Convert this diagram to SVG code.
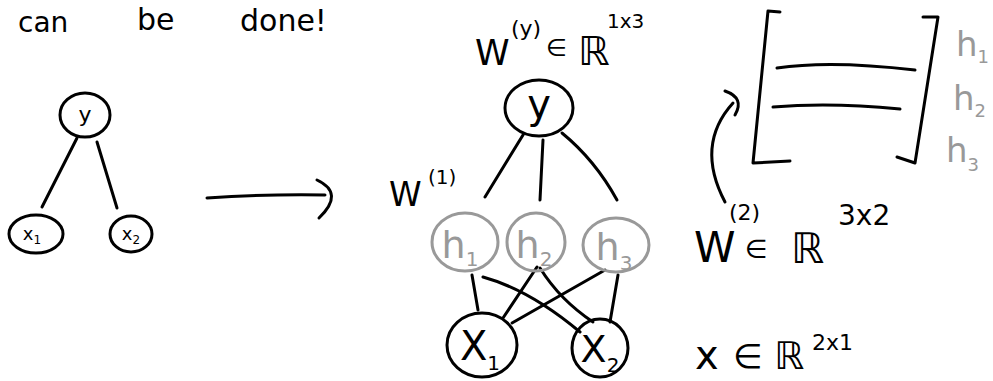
<svg xmlns="http://www.w3.org/2000/svg" width="993" height="381" viewBox="0 0 993 381">
<style>
.s{fill:none;stroke:#000;stroke-width:3;stroke-linecap:round;stroke-linejoin:round}
.g{fill:none;stroke:#999;stroke-width:3;stroke-linecap:round}
.t{font-family:"DejaVu Sans","Liberation Sans",sans-serif;fill:#000}
.tg{font-family:"DejaVu Sans","Liberation Sans",sans-serif;fill:#999}
</style>
<rect width="993" height="381" fill="#fff"/>
<g id="title">
<text class="t" x="18" y="32" font-size="28">can</text>
<text class="t" x="137" y="30" font-size="30">be</text>
<text class="t" x="240" y="31" font-size="30">done!</text>
</g>
<g id="connectors">
<path class="s" d="M77,138 L42,207"/>
<path class="s" d="M97,142 L117,208"/>
<path class="s" d="M207,198 Q265,194 325,195"/>
<path class="s" d="M317,180 Q345,193 319,218"/>
<path class="s" d="M523,135 L485,197"/>
<path class="s" d="M543,140 L540,200"/>
<path class="s" d="M562,133 Q595,160 617,200"/>
<path class="s" d="M472,275 L478,310"/>
<path class="s" d="M483,277 Q530,290 580,332" stroke-width="4"/>
<path class="s" d="M537,267 L503,318"/>
<path class="s" d="M540,268 Q560,300 593,322"/>
<path class="s" d="M605,270 L512,323"/>
<path class="s" d="M618,275 L610,322"/>
<path class="s" d="M725,202 Q695,145 733,103"/>
<path class="s" d="M725,91 Q745,98 735,115"/>
</g>
<g id="node-y-left">
<ellipse class="s" cx="85" cy="115" rx="25" ry="22"/>
<text class="t" x="85" y="122" font-size="22" text-anchor="middle">y</text>
</g>
<g id="node-x1-left">
<ellipse class="s" cx="36" cy="234" rx="27" ry="19"/>
<text class="t" x="32" y="240" font-size="18" text-anchor="middle">x<tspan font-size="12" dy="4">1</tspan></text>
</g>
<g id="node-x2-left">
<ellipse class="s" cx="131" cy="234" rx="21" ry="18"/>
<text class="t" x="131" y="240" font-size="18" text-anchor="middle">x<tspan font-size="12" dy="4">2</tspan></text>
</g>
<g id="label-wy">
<text class="t" x="475" y="65" font-size="35">W</text>
<text class="t" x="511" y="36" font-size="22">(y)</text>
<text class="t" x="546" y="56" font-size="24">∈</text>
<text class="t" x="578" y="65" font-size="40">ℝ</text>
<text class="t" x="607" y="28" font-size="20">1x3</text>
</g>
<g id="node-y">
<ellipse class="s" cx="539" cy="108" rx="34" ry="28"/>
<text class="t" x="539" y="118" font-size="40" text-anchor="middle">y</text>
</g>
<g id="label-w1">
<text class="t" x="389" y="206" font-size="33">W</text>
<text class="t" x="428" y="184" font-size="20">(1)</text>
</g>
<g id="node-h1">
<ellipse class="g" cx="465" cy="242" rx="33" ry="29"/>
<text class="tg" x="460" y="258" font-size="38" text-anchor="middle">h<tspan font-size="20" dy="8">1</tspan></text>
</g>
<g id="node-h2">
<ellipse class="g" cx="536" cy="242" rx="29" ry="29"/>
<text class="tg" x="534" y="258" font-size="38" text-anchor="middle">h<tspan font-size="20" dy="8">2</tspan></text>
</g>
<g id="node-h3">
<ellipse class="g" cx="616" cy="245" rx="33" ry="27"/>
<text class="tg" x="614" y="260" font-size="38" text-anchor="middle">h<tspan font-size="20" dy="10">3</tspan></text>
</g>
<g id="node-x1">
<ellipse class="s" cx="482" cy="345" rx="35" ry="32"/>
<text class="t" x="480" y="360" font-size="40" text-anchor="middle">X<tspan font-size="20" dy="10">1</tspan></text>
</g>
<g id="node-x2">
<ellipse class="s" cx="600" cy="348" rx="28" ry="29"/>
<text class="t" x="600" y="362" font-size="38" text-anchor="middle">X<tspan font-size="20" dy="10">2</tspan></text>
</g>
<g id="matrix">
<path class="s" d="M780,12 L768,11 L753,163 L790,161"/>
<path class="s" d="M923,17 L938,17 L915,163 L897,157"/>
<path class="s" d="M777,68 Q830,60 915,70"/>
<path class="s" d="M773,107 Q830,102 900,109"/>
<text class="tg" x="956" y="56" font-size="34">h<tspan font-size="18" dy="7">1</tspan></text>
<text class="tg" x="953" y="110" font-size="34">h<tspan font-size="18" dy="7">2</tspan></text>
<text class="tg" x="946" y="162" font-size="34">h<tspan font-size="18" dy="9">3</tspan></text>
</g>
<g id="label-w2">
<text class="t" x="694" y="262" font-size="42">W</text>
<text class="t" x="729" y="220" font-size="22">(2)</text>
<text class="t" x="745" y="258" font-size="26">∈</text>
<text class="t" x="791" y="263" font-size="42">ℝ</text>
<text class="t" x="838" y="225" font-size="28">3x2</text>
</g>
<g id="label-x">
<text class="t" x="695" y="369" font-size="40">x</text>
<text class="t" x="733" y="368" font-size="34">∈</text>
<text class="t" x="774" y="369" font-size="38">ℝ</text>
<text class="t" x="812" y="350" font-size="22">2x1</text>
</g>
</svg>
